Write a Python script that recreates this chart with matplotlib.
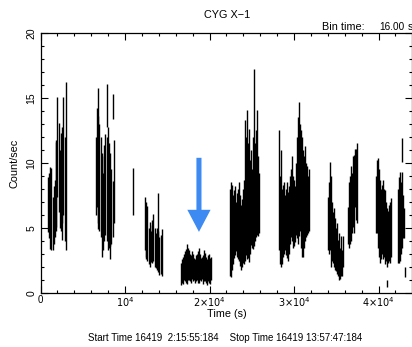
import matplotlib
matplotlib.use("Agg")
import matplotlib.pyplot as plt
from matplotlib.patches import FancyArrow
from matplotlib.ticker import MultipleLocator

plt.rcParams['font.family'] = ['Liberation Sans', 'DejaVu Sans']

# ---- data: 16 s binned light curve, drawn as per-bin vertical ranges (time s, low, high count/s)
time_s = [
    # segment 1
    830, 950, 1065, 1180, 1300, 1420, 1540, 1660, 1780, 1890, 2010, 2130, 2250, 2370, 2490, 2600, 2720, 2840, 2960,
    # segment 2
    6510, 6630, 6750, 6860, 6980, 7100, 7220, 7340, 7460, 7570, 7690, 7810, 7810, 7930, 8050, 8170, 8280, 8400, 8520, 8520, 8640,
    # isolated bin
    10890,
    # segment 3
    12310, 12430, 12540, 12660, 12780, 12900, 13020, 13140, 13250, 13370, 13490, 13610, 13730, 13850, 13960, 14080, 14200, 14320,
    # segment 4 (low state)
    16568, 16686, 16805, 16923, 17041, 17160, 17278, 17396, 17514, 17633, 17751, 17870, 17988, 18106, 18224, 18343,
    18461, 18579, 18698, 18816, 18934, 19053, 19171, 19289, 19408, 19526, 19644, 19763, 19881, 19999, 20118,
    # segment 5
    22366, 22485, 22603, 22721, 22840, 22958, 23076, 23195, 23313, 23431, 23550, 23668, 23786, 23905, 24023,
    24141, 24260, 24378, 24496, 24615, 24733, 24851, 24970, 25088, 25206, 25325, 25443, 25561, 25680, 25798,
    # segment 6
    28165, 28284, 28402, 28520, 28639, 28757, 28875, 28994, 29112, 29230, 29348, 29467, 29585, 29703, 29822, 29940,
    30058, 30177, 30295, 30413, 30532, 30650, 30768, 30887, 31005, 31123, 31242, 31360, 31478, 31597, 31715,
    # segment 7a
    33963, 34081, 34200, 34318, 34436, 34555, 34673, 34791, 34910, 35028, 35147, 35265, 35383, 35502, 35620, 35738,
    # segment 7b
    36331, 36449, 36567, 36685, 36804, 36922, 37040, 37159, 37277, 37395,
    # segment 8
    39643, 39762, 39880, 39998, 40117, 40235, 40354, 40472, 40590, 40709, 40827, 40945, 41064, 41182, 41300, 41419, 40945,
    # segment 9
    42248, 42366, 42485, 42603, 42721, 42721, 42840, 42958, 43076,
]
rate_low = [
    4.7, 4.2, 5.1, 3.4, 3.3, 3.3, 3.8, 4.3, 4.8, 5.1, 7.4, 6.2, 5.0, 4.8, 4.1, 5.4, 6.0, 4.0, 3.3,
    6.0, 6.6, 4.9, 5.4, 4.8, 4.3, 2.8, 3.3, 4.0, 5.4, 4.5, 4.0, 12.8, 3.3, 3.5, 3.6, 2.6, 3.8, 4.3, 13.4, 5.4,
    6.0,
    3.3, 2.8, 2.6, 2.5, 2.2, 2.0, 2.4, 2.3, 2.4, 2.5, 2.0, 1.9, 1.8, 2.1, 1.6, 1.4, 1.5, 1.3,
    0.6, 0.8, 0.7, 1.0, 0.9, 0.8, 0.7, 1.0, 1.0, 0.9, 0.8, 1.1, 0.9, 1.0, 0.8, 0.9,
    1.0, 0.8, 0.8, 1.0, 0.9, 1.1, 0.7, 0.9, 0.9, 0.8, 0.6, 0.9, 0.8, 0.7, 1.0,
    1.3, 1.25, 1.8, 2.2, 2.7, 2.9, 3.2, 2.8, 2.6, 2.5, 2.1, 1.8, 2.0, 2.3, 2.2,
    2.5, 2.9, 2.6, 2.7, 2.4, 3.0, 3.7, 3.5, 3.4, 3.6, 4.0, 4.3, 4.5, 4.4, 4.6,
    3.3, 2.2, 2.0, 2.2, 2.8, 3.0, 3.3, 2.9, 2.7, 2.5, 3.0, 3.8, 4.3, 4.0, 3.5, 3.6,
    3.9, 4.5, 4.2, 3.8, 4.4, 4.8, 3.5, 2.8, 2.8, 3.5, 4.0, 4.3, 4.5, 4.6, 4.8,
    3.3, 3.0, 3.3, 2.0, 2.5, 2.3, 2.0, 1.8, 1.7, 1.5, 1.3, 1.0, 1.1, 1.3, 1.3, 2.0,
    3.8, 3.5, 3.8, 4.0, 4.6, 5.1, 4.6, 6.6, 5.6, 5.4,
    4.6, 4.6, 3.5, 2.8, 2.3, 2.6, 3.0, 2.6, 2.8, 2.2, 2.5, 2.0, 2.3, 2.5, 2.3, 2.8, 0.5,
    2.3, 2.3, 2.5, 3.0, 3.5, 10.1, 4.2, 4.2, 1.2,
]
rate_high = [
    8.9, 9.2, 9.7, 9.0, 9.6, 7.4, 8.2, 8.7, 11.6, 11.8, 15.1, 13.1, 11.0, 12.3, 12.0, 12.8, 15.1, 12.0, 16.2,
    12.0, 14.2, 13.6, 15.8, 13.0, 12.0, 10.8, 9.2, 10.5, 11.4, 12.2, 12.0, 16.1, 12.8, 11.5, 10.8, 7.9, 9.5, 8.6, 15.3, 11.8,
    9.6,
    7.4, 7.0, 6.0, 6.7, 5.0, 5.5, 4.8, 5.2, 5.6, 6.1, 5.0, 4.6, 5.0, 7.7, 4.8, 4.3, 4.5, 4.9,
    2.3, 2.6, 2.8, 3.0, 3.2, 3.4, 3.8, 3.5, 3.3, 3.0, 2.9, 3.2, 3.0, 2.7, 2.6, 2.9,
    3.0, 3.2, 3.5, 3.0, 2.7, 2.8, 2.9, 3.3, 3.1, 2.8, 2.6, 2.9, 3.0, 2.7, 2.8,
    8.0, 8.5, 8.3, 7.5, 7.9, 8.2, 7.0, 7.7, 8.0, 8.5, 7.5, 6.8, 7.2, 8.0, 8.7,
    13.3, 12.0, 14.1, 11.5, 12.6, 10.2, 11.0, 9.5, 12.0, 17.2, 11.5, 12.5, 14.1, 10.5, 9.2,
    12.5, 9.0, 11.0, 8.0, 8.3, 8.5, 7.5, 8.0, 8.5, 7.8, 8.2, 9.0, 9.5, 10.5, 9.0, 8.7,
    8.2, 10.0, 12.0, 13.5, 14.7, 13.0, 12.5, 12.0, 11.0, 10.5, 11.3, 10.0, 9.8, 9.0, 9.5,
    7.4, 8.5, 10.1, 9.0, 7.0, 6.2, 6.5, 5.8, 5.0, 5.4, 4.1, 4.6, 3.5, 4.4, 3.3, 4.4,
    6.6, 8.5, 9.0, 9.8, 9.2, 10.5, 10.6, 11.1, 11.1, 11.5,
    9.0, 10.2, 10.4, 9.5, 8.7, 8.0, 8.3, 8.7, 8.0, 7.9, 7.0, 6.5, 6.3, 6.8, 7.0, 7.3, 1.0,
    8.0, 8.9, 9.3, 8.5, 9.3, 11.9, 7.5, 6.5, 2.0,
]

x_ticks = [0, 10000, 20000, 30000, 40000]
x_tick_labels = ["0", r"$10^4$", r"$2{\times}10^4$", r"$3{\times}10^4$", r"$4{\times}10^4$"]
y_ticks = [0, 5, 10, 15, 20]
y_tick_labels = ["0", "5", "10", "15", "20"]

arrow_x = 18750
arrow_top = 10.4
arrow_tip = 4.7

W, H = 412, 347
fig = plt.figure(figsize=(W / 100, H / 100), dpi=100)
ax = fig.add_axes([40.5 / W, (H - 293) / H, (411.5 - 40.5) / W, (293 - 33) / H])

ax.vlines(time_s, rate_low, rate_high, colors='black', linewidth=1.0)

ax.set_xlim(0, 43900)
ax.set_ylim(0, 20)
ax.set_xticks(x_ticks)
ax.set_xticklabels(x_tick_labels, fontsize=7)
ax.set_yticks(y_ticks)
ax.set_yticklabels(y_tick_labels, fontsize=7.5, rotation=90, va='center')
ax.xaxis.set_minor_locator(MultipleLocator(2000))
ax.yaxis.set_minor_locator(MultipleLocator(1))
ax.tick_params(which='both', direction='in', top=True, right=True, width=0.8)
ax.tick_params(which='major', length=5)
ax.tick_params(axis='x', which='major', pad=1.5)
ax.tick_params(axis='y', which='major', pad=3)
ax.tick_params(which='minor', length=2.5)
for s in ax.spines.values():
    s.set_linewidth(0.9)

ax.add_patch(FancyArrow(arrow_x, arrow_top, 0, arrow_tip - arrow_top, width=600,
                        head_width=2750, head_length=1.7, length_includes_head=True,
                        color='#3d8af2', linewidth=0))

def ftext(x, y, s, **kw):
    fig.text(x / W, 1 - y / H, s, **kw)

ftext(227, 15, "CYG X\u22121", fontsize=7.8, ha='center', va='center')
ftext(322, 27, "Bin time:", fontsize=7.8, ha='left', va='center')
ftext(379, 27, "16.00", fontsize=7.2, ha='left', va='center')
ftext(408, 27, "s", fontsize=7.8, ha='left', va='center')
ftext(227, 314, "Time (s)", fontsize=7.8, ha='center', va='center')
ftext(225, 338, "Start Time 16419  2:15:55:184    Stop Time 16419 13:57:47:184",
      fontsize=7, ha='center', va='center')
ftext(14, 163, "Count/sec", fontsize=7.8, ha='center', va='center', rotation=90)

fig.savefig("out.png", dpi=100)
